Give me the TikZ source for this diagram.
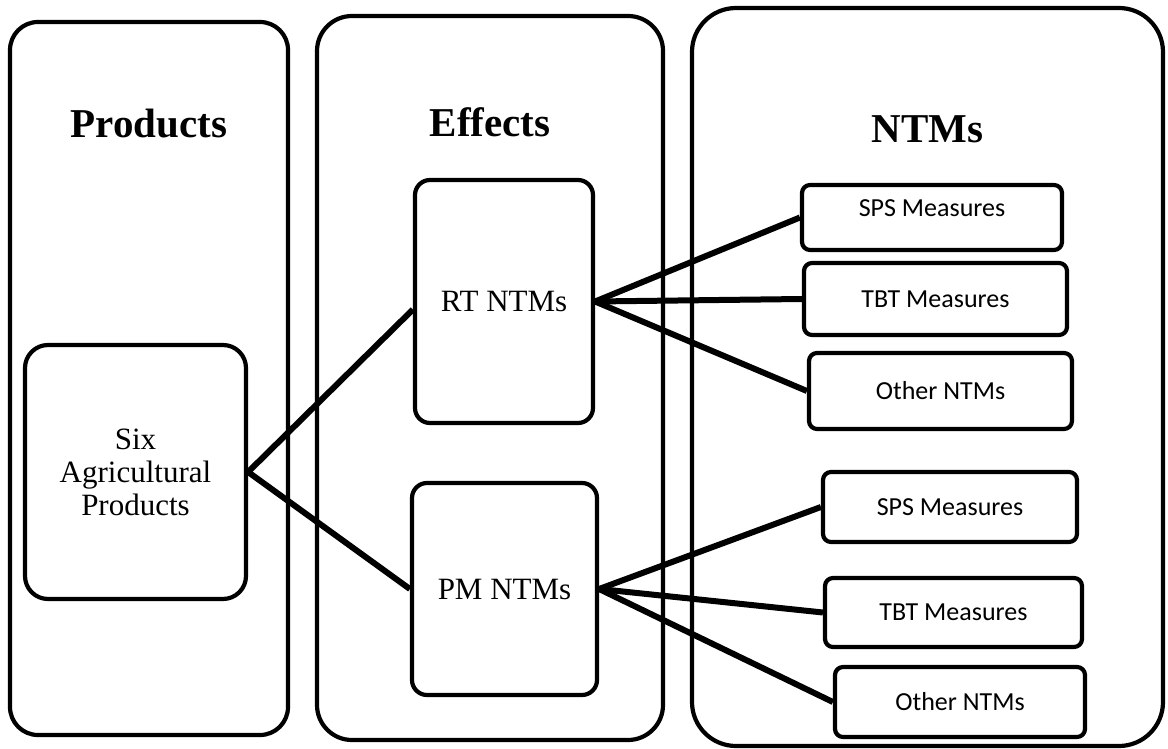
\documentclass[tikz,border=0pt]{standalone}
\usepackage{fontspec}
\setmainfont{Liberation Serif}
\newfontfamily\calibri{Carlito}
\usepackage{tikz}
\usetikzlibrary{positioning}

\begin{document}
\begin{tikzpicture}[x=0.5pt, y=-0.5pt, line join=round,
	panel/.style={rectangle, rounded corners=#1, draw, line width=2.1pt, inner sep=0pt},
	block/.style={rectangle, rounded corners=#1, draw, line width=2.1pt, inner sep=0pt, align=center, font=\fontsize{15.5}{16.5}\selectfont},
	ntm/.style={rectangle, rounded corners=4pt, draw, line width=2.1pt, inner sep=0pt, font=\calibri\fontsize{13}{15}\selectfont},
	title/.style={anchor=base, font=\fontsize{20.5}{24}\selectfont\bfseries},
	link/.style={line width=3pt, preaction={draw=black!18, line width=5pt, transform canvas={shift={(1pt,-1.5pt)}}}}]
	\useasboundingbox (0,0) rectangle (1168,749);

	% the three columns
	\node[panel=14pt, minimum width=139pt, minimum height=356.5pt] (c1) at (149,378.5) {};
	\node[panel=17.5pt, minimum width=173pt, minimum height=362pt] (c2) at (490,378) {};
	\node[panel=22pt, minimum width=235.5pt, minimum height=369pt] (c3) at (927.5,377) {};
	\node[title] (t1) at (149,138) {Products};
	\node[title] (t2) at (490,137) {Effects};
	\node[title] (t3) at (927.5,143) {NTMs};

	\node[block=11.5pt, minimum width=110.5pt, minimum height=127pt] (1) at (135.5,472) {Six\\Agricultural\\Products};
	\node[block=7.5pt, minimum width=89pt, minimum height=121.5pt] (2) at (504,301.5) {RT NTMs};
	\node[block=7.5pt, minimum width=92.5pt, minimum height=106pt] (3) at (504.5,589) {PM NTMs};

	\node[ntm, minimum width=130pt, minimum height=32.5pt, text depth=9pt] (4) at (932,217.5) {SPS Measures};
	\node[ntm, minimum width=131.5pt, minimum height=36pt] (5) at (935.5,299) {TBT Measures};
	\node[ntm, minimum width=131.5pt, minimum height=38pt] (6) at (940.5,391) {Other NTMs};
	\node[ntm, minimum width=127pt, minimum height=35pt] (7) at (950,507) {SPS Measures};
	\node[ntm, minimum width=128.5pt, minimum height=34.5pt] (8) at (953.5,612.5) {TBT Measures};
	\node[ntm, minimum width=125pt, minimum height=35pt] (9) at (960,702) {Other NTMs};

	\path[link] (1.east) edge ([yshift=-4pt]2.west)
		(1.east) edge (3.west)
		(2.east) edge (4.west)
		(2.east) edge (5.west)
		(2.east) edge (6.west)
		(3.east) edge (7.west)
		(3.east) edge (8.west)
		(3.east) edge (9.west);
\end{tikzpicture}
\end{document}
